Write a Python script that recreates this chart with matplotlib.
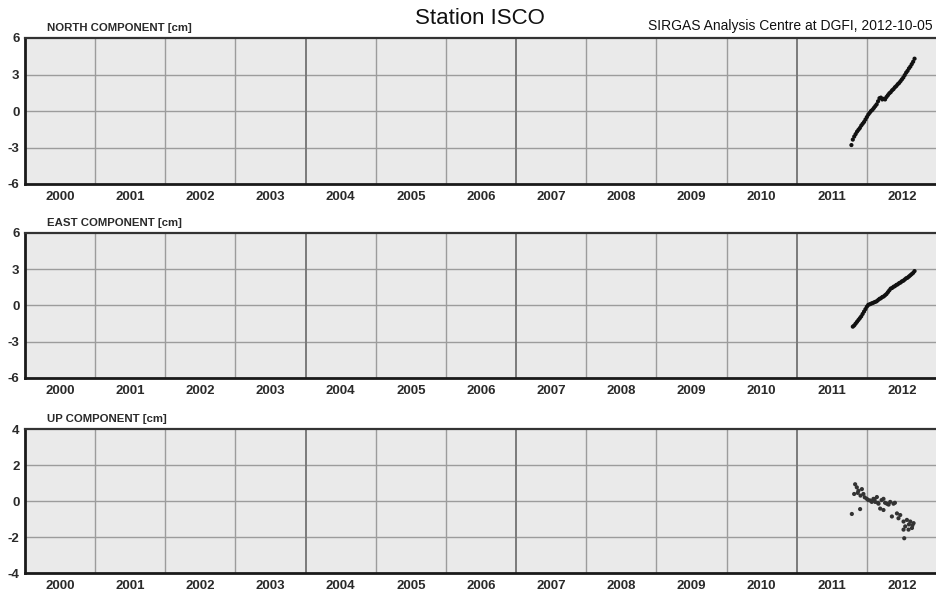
import matplotlib
matplotlib.use("Agg")
import matplotlib.pyplot as plt

plt.rcParams['font.family'] = ['Liberation Sans', 'DejaVu Sans']

# North component [cm]
north_t = [2011.78, 2011.80, 2011.82, 2011.84, 2011.86, 2011.88, 2011.90, 2011.92, 2011.94,
           2011.96, 2011.98, 2012.00, 2012.02, 2012.04, 2012.06, 2012.08, 2012.10, 2012.12,
           2012.14, 2012.16, 2012.18, 2012.20, 2012.22, 2012.24, 2012.26, 2012.28, 2012.30,
           2012.32, 2012.34, 2012.36, 2012.38, 2012.40, 2012.42, 2012.44, 2012.46, 2012.48,
           2012.50, 2012.52, 2012.54, 2012.56, 2012.58, 2012.60, 2012.62, 2012.64, 2012.66,
           2012.68]
north_v = [-2.80, -2.35, -2.10, -1.90, -1.70, -1.55, -1.40, -1.20, -1.05,
           -0.90, -0.70, -0.50, -0.30, -0.15, 0.00, 0.10, 0.25, 0.40,
           0.55, 0.80, 1.05, 1.10, 0.95, 1.00, 0.95, 1.15, 1.30,
           1.45, 1.55, 1.70, 1.80, 1.95, 2.05, 2.20, 2.30, 2.45,
           2.60, 2.75, 2.95, 3.15, 3.30, 3.50, 3.65, 3.85, 4.05,
           4.30]

# East component [cm]
east_t = [2011.80, 2011.82, 2011.84, 2011.86, 2011.88, 2011.90, 2011.92, 2011.94, 2011.96,
          2011.98, 2012.00, 2012.02, 2012.04, 2012.06, 2012.08, 2012.10, 2012.12, 2012.14,
          2012.16, 2012.18, 2012.20, 2012.22, 2012.24, 2012.26, 2012.28, 2012.30, 2012.32,
          2012.34, 2012.36, 2012.38, 2012.40, 2012.42, 2012.44, 2012.46, 2012.48, 2012.50,
          2012.52, 2012.54, 2012.56, 2012.58, 2012.60, 2012.62, 2012.64, 2012.66, 2012.68]
east_v = [-1.75, -1.65, -1.50, -1.35, -1.20, -1.05, -0.90, -0.70, -0.50,
          -0.30, -0.10, 0.05, 0.10, 0.15, 0.20, 0.25, 0.30, 0.35,
          0.45, 0.55, 0.60, 0.70, 0.75, 0.85, 0.95, 1.10, 1.25,
          1.40, 1.45, 1.55, 1.60, 1.70, 1.75, 1.85, 1.90, 2.00,
          2.05, 2.15, 2.25, 2.30, 2.40, 2.50, 2.60, 2.70, 2.85]

# Up component [cm]
up_t = [2011.786, 2011.904, 2011.819, 2011.833, 2011.857, 2011.880, 2011.929, 2011.951,
        2012.000, 2012.047, 2012.094, 2012.143, 2012.119, 2012.166, 2012.190, 2012.237,
        2012.237, 2012.286, 2012.333, 2012.380, 2012.357, 2012.429, 2012.451, 2012.476,
        2012.523, 2012.571, 2012.619, 2012.666, 2012.547, 2012.594, 2012.523, 2012.643,
        2012.533, 2011.870, 2011.910, 2011.970, 2012.020, 2012.070, 2012.110, 2012.160,
        2012.210, 2012.260, 2012.310, 2012.400, 2012.600, 2012.650]
up_v = [-0.72, -0.45, 0.39, 0.93, 0.76, 0.57, 0.66, 0.39,
        0.12, 0.03, 0.12, 0.22, -0.05, -0.15, -0.42, -0.50,
        0.12, -0.15, -0.05, -0.15, -0.86, -0.69, -0.96, -0.78,
        -1.14, -1.05, -1.14, -1.23, -1.41, -1.59, -1.59, -1.50,
        -2.07, 0.45, 0.30, 0.20, 0.05, -0.05, 0.10, -0.10,
        0.05, -0.10, -0.20, -0.10, -1.30, -1.35]

years = list(range(2000, 2013))
thick_years = [2004, 2007, 2011]

panels = [
    ("NORTH COMPONENT [cm]", north_t, north_v, (-6, 6), [-6, -3, 0, 3, 6], "#111111"),
    ("EAST COMPONENT [cm]", east_t, east_v, (-6, 6), [-6, -3, 0, 3, 6], "#111111"),
    ("UP COMPONENT [cm]", up_t, up_v, (-4, 4), [-4, -2, 0, 2, 4], "#333333"),
]

W, H = 937, 592
fig = plt.figure(figsize=(W / 100, H / 100), dpi=100)

# axes boxes in pixels: (top, bottom)
boxes = [(38, 184), (233, 378), (429, 573)]
left_px = 25

for (title, t, v, ylim, yt, col), (top, bot) in zip(panels, boxes):
    ax = fig.add_axes([left_px / W, 1 - bot / H, 1 - left_px / W, (bot - top) / H])
    ax.set_facecolor("#eaeaea")
    ax.set_xlim(2000, 2013)
    ax.set_ylim(*ylim)

    for y in yt[1:-1]:
        ax.axhline(y, color="#9c9c9c", lw=1.0, zorder=1)
    for yr in years[1:]:
        if yr in thick_years:
            ax.axvline(yr, color="#7a7a7a", lw=1.4, zorder=1)
        else:
            ax.axvline(yr, color="#9c9c9c", lw=1.0, zorder=1)

    ax.scatter(t, v, s=9, color=col, edgecolors="none", zorder=3)

    ax.set_yticks(yt)
    ax.set_yticklabels([str(y) for y in yt])
    ax.set_xticks([y + 0.5 for y in years])
    ax.set_xticklabels([str(y) for y in years])
    ax.tick_params(length=0, labelsize=9.5)
    ax.tick_params(axis="x", pad=5)
    ax.tick_params(axis="y", pad=4)
    for lab in ax.get_xticklabels() + ax.get_yticklabels():
        lab.set_fontweight("bold")
        lab.set_color("#2a2a2a")

    for s in ["left", "bottom", "top"]:
        ax.spines[s].set_linewidth(2.0)
        ax.spines[s].set_color("#1a1a1a")
    ax.spines["top"].set_linewidth(1.6)
    ax.spines["top"].set_color("#333333")
    ax.spines["right"].set_visible(False)

    fig.text(47 / W, 1 - (top - 10) / H, title, fontsize=8.2, fontweight="bold",
             color="#2a2a2a", va="center", ha="left")

fig.text(480 / W, 1 - 18 / H, "Station ISCO", fontsize=16, ha="center", va="center", color="#111111")
fig.text(933 / W, 1 - 26 / H, "SIRGAS Analysis Centre at DGFI, 2012-10-05", fontsize=10,
         ha="right", va="center", color="#111111")

fig.savefig("out.png", dpi=100)
